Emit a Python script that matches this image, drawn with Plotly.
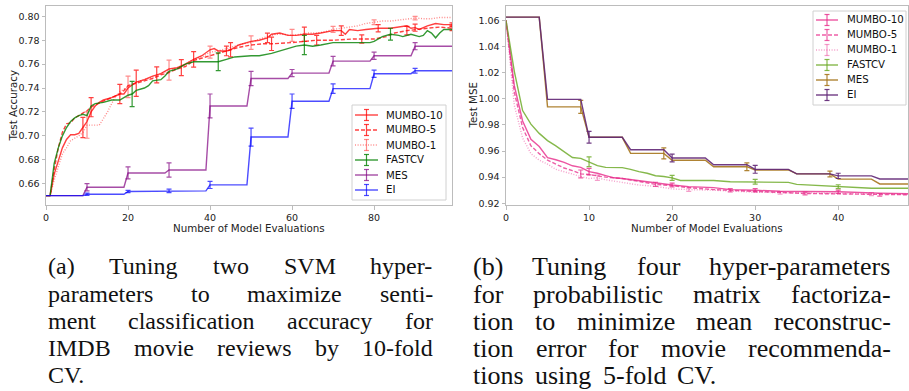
import plotly.graph_objects as go

W, H = 909, 391

# ---------------- (a) SVM / IMDB : Test Accuracy ----------------
a_m10_x = [0,1,2,3,4,5,6,7,8,9,10,11,12,13,14,16,18,19,20,22,24,26,27,28,30,32,34,36,38,40,41,42,44,45,47,50,52,54,55,57,59,61,63,65,67,70,72,73,74,76,78,80,81,84,86,88,89,90,91,93,95,97,99]
a_m10_y = [0.650,0.650,0.668,0.680,0.690,0.697,0.701,0.701,0.702,0.707,0.712,0.720,0.725,0.728,0.730,0.732,0.735,0.735,0.740,0.745,0.747,0.750,0.751,0.752,0.756,0.757,0.760,0.764,0.767,0.772,0.773,0.771,0.771,0.772,0.776,0.779,0.780,0.782,0.785,0.786,0.784,0.784,0.785,0.785,0.786,0.788,0.788,0.785,0.789,0.788,0.789,0.790,0.790,0.790,0.791,0.792,0.790,0.7905,0.789,0.792,0.794,0.793,0.793]
a_m10_ex = [9,18,27,36,45,54,63,72,81,90,99]
a_m10_ee = [0.0085,0.008,0.0067,0.0065,0.006,0.004,0.006,0.004,0.003,0.003,0.0015]

a_m5_x = [0,1,2,3,4,5,6,7,8,9,10,11,12,14,16,18,19,20,22,24,26,28,30,32,33,34,36,38,40,42,44,47,50,53,55,60,66,70,75,77,80,83,85,88,90,93,96,99]
a_m5_y = [0.650,0.650,0.672,0.690,0.703,0.710,0.711,0.715,0.717,0.719,0.721,0.724,0.726,0.729,0.732,0.735,0.738,0.742,0.744,0.746,0.748,0.751,0.753,0.756,0.757,0.758,0.763,0.765,0.767,0.769,0.771,0.774,0.776,0.777,0.777,0.778,0.780,0.780,0.781,0.781,0.781,0.783,0.786,0.788,0.789,0.790,0.791,0.790]
a_m5_ex = [11,22,33,44,55,66,77,88,99]
a_m5_ee = [0.008,0.011,0.0067,0.004,0.0056,0.004,0.0035,0.0035,0.002]

a_m1_x = [0,1,2,3,4,5,6,7,8,9,10,13,14,15,16,17,18,19,20,22,24,26,28,30,32,34,36,38,40,42,44,46,48,50,52,54,56,58,60,62,64,66,68,70,72,74,76,78,80,82,84,86,88,90,92,94,96,99]
a_m1_y = [0.650,0.650,0.663,0.675,0.685,0.690,0.696,0.698,0.700,0.703,0.709,0.709,0.714,0.720,0.727,0.733,0.737,0.739,0.741,0.745,0.747,0.749,0.752,0.755,0.757,0.760,0.764,0.766,0.770,0.771,0.773,0.775,0.777,0.778,0.781,0.783,0.785,0.785,0.784,0.785,0.786,0.786,0.787,0.789,0.790,0.791,0.792,0.794,0.795,0.796,0.796,0.797,0.798,0.7985,0.798,0.798,0.799,0.799]
a_m1_ex = [10,20,30,40,50,60,70,80,90]
a_m1_ee = [0.011,0.009,0.0084,0.005,0.0056,0.005,0.0025,0.002,0.0015]

a_fcv_x = [0,1,2,3,4,5,6,7,8,9,10,11,12,14,16,18,19,20,21,22,24,25,26,28,29,30,32,34,36,42,44,46,50,52,55,58,61,63,65,67,70,79,80,82,84,86,87,89,91,92,93,94,95,96,97,99]
a_fcv_y = [0.650,0.650,0.677,0.690,0.700,0.707,0.712,0.715,0.717,0.718,0.717,0.725,0.727,0.728,0.730,0.730,0.732,0.734,0.735,0.738,0.740,0.742,0.746,0.747,0.750,0.754,0.756,0.760,0.762,0.762,0.764,0.766,0.767,0.767,0.769,0.772,0.775,0.776,0.775,0.776,0.778,0.778,0.779,0.783,0.785,0.784,0.783,0.785,0.783,0.784,0.788,0.786,0.782,0.786,0.789,0.789]
a_fcv_ex = [21,42,63,84]
a_fcv_ee = [0.0105,0.0074,0.008,0.005]

a_mes_x = [0,9,10,19,20,29,30,39,40,49,50,59,60,69,70,79,80,89,90,99]
a_mes_y = [0.650,0.650,0.657,0.657,0.669,0.669,0.6715,0.6715,0.725,0.725,0.748,0.748,0.7525,0.7525,0.7625,0.7625,0.767,0.767,0.775,0.775]
a_mes_ex = [10,20,30,40,50,60,70,80,90]
a_mes_ee = [0.003,0.005,0.006,0.010,0.006,0.003,0.004,0.003,0.003]

a_ei_x = [0,9,10,19,20,29,30,39,40,49,50,59,60,69,70,79,80,89,90,99]
a_ei_y = [0.650,0.650,0.6512,0.6512,0.6535,0.6535,0.654,0.654,0.659,0.659,0.699,0.699,0.729,0.729,0.7395,0.7395,0.752,0.752,0.7545,0.7545]
a_ei_ex = [10,20,30,40,50,60,70,80,90]
a_ei_ee = [0.001,0.001,0.0015,0.003,0.0075,0.006,0.004,0.003,0.002]

a_yticks = [0.66,0.68,0.70,0.72,0.74,0.76,0.78,0.80]
a_xticks = [0,20,40,60,80]

# ---------------- (b) PMF : Test MSE ----------------
b_m10_x = [0,1,2,3,4,5,6,7,8,9,10,11,12,13,14,15,17,20,22,25,27,30,33,36,40,45,49]
b_m10_y = [1.06,1.010,0.983,0.969,0.9635,0.955,0.9533,0.9513,0.9487,0.9475,0.9442,0.943,0.9412,0.9395,0.939,0.9383,0.9365,0.934,0.9328,0.932,0.9305,0.930,0.9292,0.929,0.9288,0.9278,0.9272]
b_m10_ex = [10,20,30,40]
b_m10_ee = [0.0025,0.0015,0.0013,0.0013]

b_m5_x = [0,1,2,3,4,5,6,7,8,9,10,12,14,16,18,20,22,25,27,30,33,36,40,45,49]
b_m5_y = [1.06,1.005,0.978,0.964,0.958,0.953,0.950,0.947,0.945,0.9425,0.942,0.940,0.939,0.937,0.9345,0.9335,0.932,0.9305,0.930,0.929,0.9282,0.9275,0.9272,0.9265,0.9265]
b_m5_ex = [9,18,27,36,45]
b_m5_ee = [0.003,0.0016,0.0013,0.001,0.001]

b_m1_x = [0,1,2,3,4,5,6,7,8,9,10,11,12,14,16,18,20,22,25,30,33,35,40,44,49]
b_m1_y = [1.06,0.995,0.970,0.958,0.953,0.950,0.946,0.944,0.942,0.9405,0.939,0.9395,0.938,0.936,0.934,0.933,0.931,0.9305,0.930,0.9285,0.928,0.928,0.9275,0.927,0.927]
b_m1_ex = [11,22,33,44]
b_m1_ee = [0.002,0.0013,0.001,0.0012]

b_fcv_x = [0,1,2,3,4,5,6,7,8,9,10,11,12,14,15,16,17,18,19,20,21,25,27,30,34,35,36,38,40,42,44,49]
b_fcv_y = [1.06,1.021,0.991,0.9806,0.9735,0.968,0.964,0.9595,0.955,0.9544,0.9518,0.9488,0.9475,0.9473,0.946,0.9442,0.943,0.9411,0.9405,0.9395,0.9375,0.9375,0.9365,0.9365,0.936,0.9345,0.9342,0.9335,0.9327,0.932,0.9315,0.9315]
b_fcv_ex = [10,20,30,40]
b_fcv_ee = [0.0038,0.0019,0.0018,0.0015]

b_mes_x = [0,4,5,9,10,14,15,19,20,24,25,29,30,34,35,39,40,44,45,49]
b_mes_y = [1.0625,1.0625,0.9938,0.9938,0.9705,0.9705,0.9582,0.9582,0.953,0.953,0.948,0.948,0.9455,0.9455,0.9425,0.9425,0.9385,0.9385,0.9348,0.9348]
b_mes_ex = [9,19,29,39]
b_mes_ee = [0.005,0.0042,0.003,0.0022]

b_ei_x = [0,4,5,9,10,14,15,19,20,24,25,29,30,34,35,39,40,44,45,49]
b_ei_y = [1.0625,1.0625,0.9995,0.9995,0.9705,0.9705,0.961,0.961,0.9547,0.9547,0.9495,0.9495,0.946,0.946,0.9425,0.9425,0.941,0.941,0.9386,0.9386]
b_ei_ex = [10,20,30,40]
b_ei_ee = [0.0045,0.003,0.003,0.002]

b_yticks = [0.92,0.94,0.96,0.98,1.00,1.02,1.04,1.06]
b_xticks = [0,10,20,30,40]

series_names = ["MUMBO-10", "MUMBO-5", "MUMBO-1", "FASTCV", "MES", "EI"]

caption_a = [
    "(a) Tuning two SVM hyper-",
    "parameters to maximize senti-",
    "ment classification accuracy for",
    "IMDB movie reviews by 10-fold",
    "CV.",
]
caption_b = [
    "(b) Tuning four hyper-parameters",
    "for probabilistic matrix factoriza-",
    "tion to minimize mean reconstruc-",
    "tion error for movie recommenda-",
    "tions using 5-fold CV.",
]

# ---------------- styles ----------------
a_styles = [
    ("rgba(255,0,0,0.75)", "solid"),
    ("rgba(255,0,0,0.75)", "4px,2px"),
    ("rgba(255,0,0,0.45)", "1px,1.6px"),
    ("rgba(0,128,0,0.8)", "solid"),
    ("rgba(128,0,128,0.7)", "solid"),
    ("rgba(0,0,255,0.7)", "solid"),
]
b_styles = [
    ("rgba(231,41,138,0.8)", "solid"),
    ("rgba(231,41,138,0.75)", "4px,2px"),
    ("rgba(231,41,138,0.45)", "1px,1.6px"),
    ("rgba(102,166,30,0.8)", "solid"),
    ("rgba(166,118,29,0.9)", "solid"),
    ("rgba(96,38,118,0.9)", "solid"),
]

fig = go.Figure()


def add_series(x, y, ex, ee, color, dash, xa, ya):
    fig.add_trace(go.Scatter(x=x, y=y, mode="lines", line=dict(color=color, dash=dash, width=1.4),
                             xaxis=xa, yaxis=ya, showlegend=False, hoverinfo="skip"))
    look = dict(zip(x, y))
    fig.add_trace(go.Scatter(x=ex, y=[look[v] for v in ex], mode="markers",
                             marker=dict(size=0.1, color=color),
                             error_y=dict(type="data", array=ee, color=color, thickness=1.2, width=2.5),
                             xaxis=xa, yaxis=ya, showlegend=False, hoverinfo="skip"))


a_data = [
    (a_m10_x, a_m10_y, a_m10_ex, a_m10_ee),
    (a_m5_x, a_m5_y, a_m5_ex, a_m5_ee),
    (a_m1_x, a_m1_y, a_m1_ex, a_m1_ee),
    (a_fcv_x, a_fcv_y, a_fcv_ex, a_fcv_ee),
    (a_mes_x, a_mes_y, a_mes_ex, a_mes_ee),
    (a_ei_x, a_ei_y, a_ei_ex, a_ei_ee),
]
b_data = [
    (b_m10_x, b_m10_y, b_m10_ex, b_m10_ee),
    (b_m5_x, b_m5_y, b_m5_ex, b_m5_ee),
    (b_m1_x, b_m1_y, b_m1_ex, b_m1_ee),
    (b_fcv_x, b_fcv_y, b_fcv_ex, b_fcv_ee),
    (b_mes_x, b_mes_y, b_mes_ex, b_mes_ee),
    (b_ei_x, b_ei_y, b_ei_ex, b_ei_ee),
]
for (x, y, ex, ee), (c, d) in zip(a_data, a_styles):
    add_series(x, y, ex, ee, c, d, "x", "y")
for (x, y, ex, ee), (c, d) in zip(b_data, b_styles):
    add_series(x, y, ex, ee, c, d, "x2", "y2")


def px(v):
    return v / W


def py(v):
    return 1 - v / H


tickfont = dict(family="DejaVu Sans", size=9.5, color="#222")
axis_common = dict(showline=True, mirror=True, linecolor="#bcbcbc", linewidth=1, ticks="outside",
                   ticklen=3.5, tickcolor="#bcbcbc", tickwidth=1, showgrid=False, zeroline=False,
                   tickfont=tickfont, automargin=False)
ydom = [py(205), py(6)]

shapes = []
annotations = []


def legend(x0, y0, x1, y1, ys, lx0, lx1, tx, styles):
    shapes.append(dict(type="rect", xref="paper", yref="paper", x0=px(x0), x1=px(x1), y0=py(y1), y1=py(y0),
                       line=dict(color="#d0d0d0", width=1), fillcolor="rgba(255,255,255,0.85)", layer="above"))
    for name, yy, (c, d) in zip(series_names, ys, styles):
        shapes.append(dict(type="line", xref="paper", yref="paper", x0=px(lx0), x1=px(lx1), y0=py(yy), y1=py(yy),
                           line=dict(color=c, width=1.4, dash=d), layer="above"))
        cx = (lx0 + lx1) / 2
        shapes.append(dict(type="line", xref="paper", yref="paper", x0=px(cx), x1=px(cx), y0=py(yy - 5.5), y1=py(yy + 5.5),
                           line=dict(color=c, width=1.2), layer="above"))
        for e in (-5.5, 5.5):
            shapes.append(dict(type="line", xref="paper", yref="paper", x0=px(cx - 2.5), x1=px(cx + 2.5),
                               y0=py(yy + e), y1=py(yy + e), line=dict(color=c, width=1.2), layer="above"))
        annotations.append(dict(text=name, xref="paper", yref="paper", x=px(tx), y=py(yy), xanchor="left",
                                yanchor="middle", showarrow=False,
                                font=dict(family="DejaVu Sans", size=10.2, color="#111")))


legend(352, 105, 446, 200, [115, 130, 145, 160, 175, 190], 355, 378, 384, a_styles)
legend(813, 11, 906, 105, [20, 35, 50, 65, 80, 95], 816, 838, 845, b_styles)

titlefont = dict(family="DejaVu Sans", size=10.3, color="#222")
annotations += [
    dict(text="Test Accuracy", x=px(12), y=py(105.5), textangle=-90, font=titlefont),
    dict(text="Number of Model Evaluations", x=px(249), y=py(227.5), font=titlefont),
    dict(text="Test MSE", x=px(472), y=py(105.5), textangle=-90, font=titlefont),
    dict(text="Number of Model Evaluations", x=px(707), y=py(227.5), font=titlefont),
]
for a in annotations[-4:]:
    a.update(xref="paper", yref="paper", showarrow=False, xanchor="center", yanchor="middle", borderpad=0)

# ---------------- captions (justified word by word) ----------------
TW = {'a': .444, 'b': .5, 'c': .444, 'd': .5, 'e': .444, 'f': .333, 'g': .5, 'h': .5, 'i': .278, 'j': .278,
      'k': .5, 'l': .278, 'm': .778, 'n': .5, 'o': .5, 'p': .5, 'q': .5, 'r': .333, 's': .389, 't': .278,
      'u': .5, 'v': .5, 'w': .722, 'x': .5, 'y': .5, 'z': .444, '(': .333, ')': .333, '-': .333, '.': .25,
      'T': .611, 'C': .667, 'V': .722, 'S': .556, 'M': .889, 'I': .333, 'D': .722, 'B': .667}


def tw(s, fs):
    return sum(TW.get(ch, .5) for ch in s) * fs


def caption(lines, x0, x1, fs, last_width):
    font = dict(family="Liberation Serif", size=fs, color="#111")
    rows = [266, 294, 321, 348, 375]
    for k, (line, yy) in enumerate(zip(lines, rows)):
        words = line.split(" ")
        widths = [tw(w, fs) for w in words]
        span = (x1 - x0) if k < len(lines) - 1 else last_width
        if len(words) > 1:
            gap = (span - sum(widths)) / (len(words) - 1)
        else:
            gap = 0
        xx = x0
        for w, wd in zip(words, widths):
            annotations.append(dict(text=w, xref="paper", yref="paper", x=px(xx), y=py(yy), xanchor="left",
                                    yanchor="middle", showarrow=False, font=font, borderpad=0))
            xx += wd + gap


caption(caption_a, 47, 432, 24, 40)
caption(caption_b, 472, 890, 26, 247)

fig.update_layout(
    width=W, height=H, margin=dict(l=0, r=0, t=0, b=0, autoexpand=False), paper_bgcolor="white",
    plot_bgcolor="white", showlegend=False,
    xaxis=dict(domain=[px(46), px(452)], range=[0, 99], tickvals=a_xticks, anchor="y", **axis_common),
    yaxis=dict(domain=ydom, range=[0.6422, 0.8086], tickvals=a_yticks, tickformat=".2f", anchor="x", **axis_common),
    xaxis2=dict(domain=[px(506), px(908)], range=[0, 48.4], tickvals=b_xticks, anchor="y2", **axis_common),
    yaxis2=dict(domain=ydom, range=[0.9187, 1.071], tickvals=b_yticks, tickformat=".2f", anchor="x2", **axis_common),
    shapes=shapes, annotations=annotations,
)

fig.write_html("out.html", config={"displayModeBar": False},
               post_script="document.body.style.margin='0px';document.body.style.padding='0px';")
